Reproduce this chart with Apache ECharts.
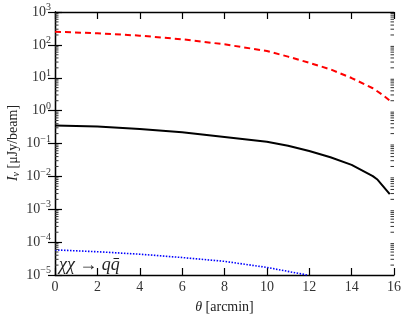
<!DOCTYPE html>
<html><head><meta charset="utf-8">
<script src="https://cdn.jsdelivr.net/npm/echarts@6/dist/echarts.min.js"></script>
<style>html,body{margin:0;padding:0;background:#fff}#c{width:407px;height:317px}</style>
</head><body><div id="c"></div>
<script>
const thetaRed = [0, 2, 4, 6, 8, 10, 11, 12, 13, 14, 15, 15.5, 15.8];
const valRed = [252, 225, 191, 148, 104, 65, 44, 28.5, 18, 9.8, 4.8, 2.9, 2.0];
const thetaBlack = [0, 2, 4, 6, 8, 10, 11, 12, 13, 14, 15, 15.2, 15.8];
const valBlack = [0.35, 0.327, 0.278, 0.22, 0.157, 0.113, 0.085, 0.059, 0.038, 0.0224, 0.0102, 0.0082, 0.0029];
const thetaBlue = [0, 2, 4, 6, 8, 10, 11.9];
const valBlue = [5.8e-5, 5.1e-5, 4.3e-5, 3.4e-5, 2.6e-5, 1.7e-5, 1.0e-5];
const xTicks = [0, 2, 4, 6, 8, 10, 12, 14, 16];
const yDecades = [-5, -4, -3, -2, -1, 0, 1, 2, 3];

const FONT = 'Liberation Serif';
const minorVals = [];
for (let d = -5; d < 3; d++) for (let m = 2; m <= 9; m++) minorVals.push(m * Math.pow(10, d));

const chart = echarts.init(document.getElementById('c'), null, {renderer: 'canvas'});
const pairs = (xs, ys) => xs.map((x, i) => [x, ys[i]]);
const supMinus = s => s.replace('-', '\u2212');

function minorSeries(xv, dir) {
  return {
    type: 'custom', silent: true, clip: false, z: 10,
    data: minorVals.map(v => [xv, v]),
    renderItem: (params, api) => {
      const p = api.coord([api.value(0), api.value(1)]);
      return {type: 'line', shape: {x1: p[0], y1: p[1], x2: p[0] + dir * 3.5, y2: p[1]},
              style: {stroke: '#333', lineWidth: 1}};
    }
  };
}

const option = {
  animation: false,
  backgroundColor: '#fff',
  grid: {left: 55, top: 12, right: 13, bottom: 42, containLabel: false, outerBoundsMode: 'none'},
  xAxis: [{
    type: 'value', min: xTicks[0], max: xTicks[xTicks.length - 1], interval: 2,
    axisLine: {lineStyle: {color: '#000', width: 1.3}},
    axisTick: {inside: true, length: 7, lineStyle: {color: '#000', width: 1.2}},
    axisLabel: {color: '#333', fontFamily: FONT, fontSize: 14, margin: 5},
    splitLine: {show: false},
    name: '{i|\u03b8} [arcmin]', nameLocation: 'middle', nameGap: 25, nameMoveOverlap: false,
    nameTextStyle: {color: '#222', fontFamily: FONT, fontSize: 14,
      rich: {i: {fontStyle: 'italic', fontFamily: FONT, fontSize: 14, color: '#222'}}}
  }, {
    type: 'value', min: 0, max: 16, interval: 2, position: 'top',
    axisLine: {lineStyle: {color: '#000', width: 1.3}},
    axisTick: {inside: true, length: 7, lineStyle: {color: '#000', width: 1.2}},
    axisLabel: {show: false}, splitLine: {show: false}
  }],
  yAxis: [{
    type: 'log', logBase: 10, min: Math.pow(10, yDecades[0]), max: Math.pow(10, yDecades[yDecades.length - 1]),
    axisLine: {lineStyle: {color: '#000', width: 1.3}},
    axisTick: {inside: true, length: 7, lineStyle: {color: '#000', width: 1.2}},
    splitLine: {show: false},
    axisLabel: {
      margin: 4, color: '#333', fontFamily: FONT,
      formatter: v => '{b|10}{e|' + supMinus(String(Math.round(Math.log10(v)))) + '}',
      rich: {
        b: {fontSize: 14, fontFamily: FONT, color: '#333'},
        e: {fontSize: 10, fontFamily: FONT, color: '#333', padding: [0, 0, 9, 0]}
      }
    }
  }, {
    type: 'log', logBase: 10, min: 1e-5, max: 1e3, position: 'right',
    axisLine: {lineStyle: {color: '#000', width: 1.3}},
    axisTick: {inside: true, length: 7, lineStyle: {color: '#000', width: 1.2}},
    axisLabel: {show: false}, splitLine: {show: false}
  }],
  series: [
    {type: 'line', data: pairs(thetaRed, valRed), showSymbol: false, symbol: 'none',
     lineStyle: {color: '#ff0000', width: 2, type: [6, 4]}},
    {type: 'line', data: pairs(thetaBlack, valBlack), showSymbol: false, symbol: 'none',
     lineStyle: {color: '#000', width: 2}},
    {type: 'line', data: pairs(thetaBlue, valBlue), showSymbol: false, symbol: 'none',
     lineStyle: {color: '#0000ff', width: 1.6, type: [1.5, 1.5]}},
    minorSeries(xTicks[0], 1),
    minorSeries(xTicks[xTicks.length - 1], -1)
  ],
  graphic: [{
    type: 'text', left: 59, top: 256,
    style: {text: '\u03c7\u03c7 \u2192 qq\u0304', fontFamily: FONT, fontStyle: 'italic', fontSize: 18, fill: '#222'}
  }, {
    type: 'text', x: 13, y: 143, rotation: Math.PI / 2,
    style: {
      text: '{i|I}{s|\u03bd} [\u03bcJy/beam]', align: 'center', verticalAlign: 'middle',
      fontFamily: FONT, fontSize: 14, fill: '#222',
      rich: {
        i: {fontStyle: 'italic', fontFamily: FONT, fontSize: 14, fill: '#222'},
        s: {fontStyle: 'italic', fontSize: 10, fontFamily: FONT, fill: '#222', padding: [6, 0, 0, 0]}
      }
    }
  }]
};
chart.setOption(option);
</script></body></html>
